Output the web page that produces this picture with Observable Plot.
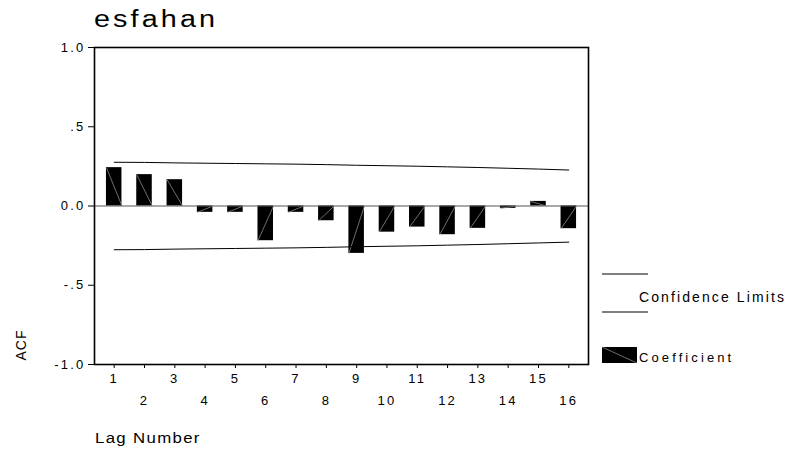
<!DOCTYPE html>
<html>
<head>
<meta charset="utf-8">
<script src="https://cdn.jsdelivr.net/npm/d3@7"></script>
<script src="https://cdn.jsdelivr.net/npm/@observablehq/plot@0.6"></script>
<style>
  html, body { margin: 0; padding: 0; background: #fff; }
  #wrap { position: relative; width: 793px; height: 459px; overflow: hidden; font-family: "Liberation Sans", Arial, sans-serif; }
  #wrap svg { position: absolute; left: 0; top: 0; }
  #chart svg text { letter-spacing: 2.2px; }
</style>
</head>
<body>
<div id="wrap"><div id="chart"></div></div>
<script>
// ---- data ----
const lags = [1, 2, 3, 4, 5, 6, 7, 8, 9, 10, 11, 12, 13, 14, 15, 16];
const acf = [0.242, 0.198, 0.166, -0.040, -0.040, -0.219, -0.040, -0.093,
             -0.299, -0.165, -0.133, -0.181, -0.141, -0.015, 0.029, -0.143];
const upperLimit = [0.276, 0.275, 0.272, 0.270, 0.268, 0.266, 0.264, 0.261,
                    0.257, 0.254, 0.251, 0.247, 0.243, 0.238, 0.233, 0.227];
const lowerLimit = [-0.276, -0.275, -0.272, -0.270, -0.268, -0.266, -0.264, -0.261,
                    -0.257, -0.254, -0.251, -0.247, -0.243, -0.238, -0.233, -0.228];
const yTicks = [-1, -0.5, 0, 0.5, 1];
const yTickLabels = ["-1.0", "-.5", "0.0", ".5", "1.0"];
const oddLags = lags.filter(d => d % 2 === 1);
const evenLags = lags.filter(d => d % 2 === 0);
const titleText = "esfahan";
const xLabel = "Lag Number";
const yLabel = "ACF";
const legendLimits = "Confidence Limits";
const legendCoef = "Coefficient";

const rows = lags.map((lag, i) => ({lag, acf: acf[i], upper: upperLimit[i], lower: lowerLimit[i]}));
const halfW = 0.256;

const chart = Plot.plot({
  width: 793,
  height: 459,
  marginTop: 47,
  marginLeft: 94,
  marginRight: 205,
  marginBottom: 95,
  x: {domain: [0.35, 16.65], axis: null},
  y: {domain: [-1, 1], axis: null},
  style: {fontFamily: "'Liberation Sans', Arial, sans-serif", fontSize: "13px", background: "white", color: "black"},
  marks: [
    Plot.axisY({ticks: yTicks, tickFormat: d => yTickLabels[yTicks.indexOf(d)], tickSize: 6, tickPadding: 3, fontSize: 13, label: null, stroke: "black"}),
    Plot.axisX({ticks: lags, tickSize: 4, tickFormat: () => "", label: null, stroke: "black"}),
    Plot.text(oddLags, {x: d => d, frameAnchor: "bottom", dy: 14, dx: 0, text: d => String(d), fontSize: 13, lineAnchor: "middle"}),
    Plot.text(evenLags, {x: d => d, frameAnchor: "bottom", dy: 36, dx: 0, text: d => String(d), fontSize: 13, lineAnchor: "middle"}),
    Plot.rectY(rows, {x1: d => d.lag - halfW, x2: d => d.lag + halfW, y1: 0, y2: "acf", fill: "black"}),
    Plot.link(rows, {x1: d => d.lag - halfW, y1: "acf", x2: d => d.lag + halfW, y2: 0, stroke: "#8a8a8a", strokeWidth: 0.8}),
    Plot.ruleY([0], {stroke: "#555", strokeWidth: 1.2}),
    Plot.line(rows, {x: "lag", y: "upper", stroke: "black", strokeWidth: 1}),
    Plot.line(rows, {x: "lag", y: "lower", stroke: "black", strokeWidth: 1}),
    Plot.frame({stroke: "black", strokeWidth: 1.6})
  ]
});
document.getElementById("chart").appendChild(chart);

// ---- overlay: title, axis titles, legend ----
const ov = d3.select("#wrap").append("svg")
  .attr("width", 793).attr("height", 459)
  .style("pointer-events", "none")
  .style("font-family", "'Liberation Sans', Arial, sans-serif");

ov.append("text").attr("transform", "translate(94,27) scale(1.25,1)")
  .attr("font-size", 23).style("letter-spacing", "2.5px").text(titleText);

ov.append("text").attr("transform", "translate(26,345) rotate(-90)")
  .attr("text-anchor", "middle").attr("font-size", 14).style("letter-spacing", "1px").text(yLabel);

ov.append("text").attr("transform", "translate(95,443) scale(1.12,1)")
  .attr("font-size", 15).style("letter-spacing", "1.2px").text(xLabel);

ov.append("line").attr("x1", 602).attr("x2", 648).attr("y1", 274).attr("y2", 274).attr("stroke", "black");
ov.append("text").attr("x", 639).attr("y", 302)
  .attr("font-size", 14).style("letter-spacing", "2.1px").text(legendLimits);
ov.append("line").attr("x1", 602).attr("x2", 648).attr("y1", 312).attr("y2", 312).attr("stroke", "black");
ov.append("rect").attr("x", 602).attr("y", 347).attr("width", 35).attr("height", 16).attr("fill", "black");
ov.append("line").attr("x1", 602).attr("y1", 347).attr("x2", 637).attr("y2", 363).attr("stroke", "#8a8a8a").attr("stroke-width", 0.8);
ov.append("text").attr("x", 639).attr("y", 362)
  .attr("font-size", 13).style("letter-spacing", "3.1px").text(legendCoef);
</script>
</body>
</html>
